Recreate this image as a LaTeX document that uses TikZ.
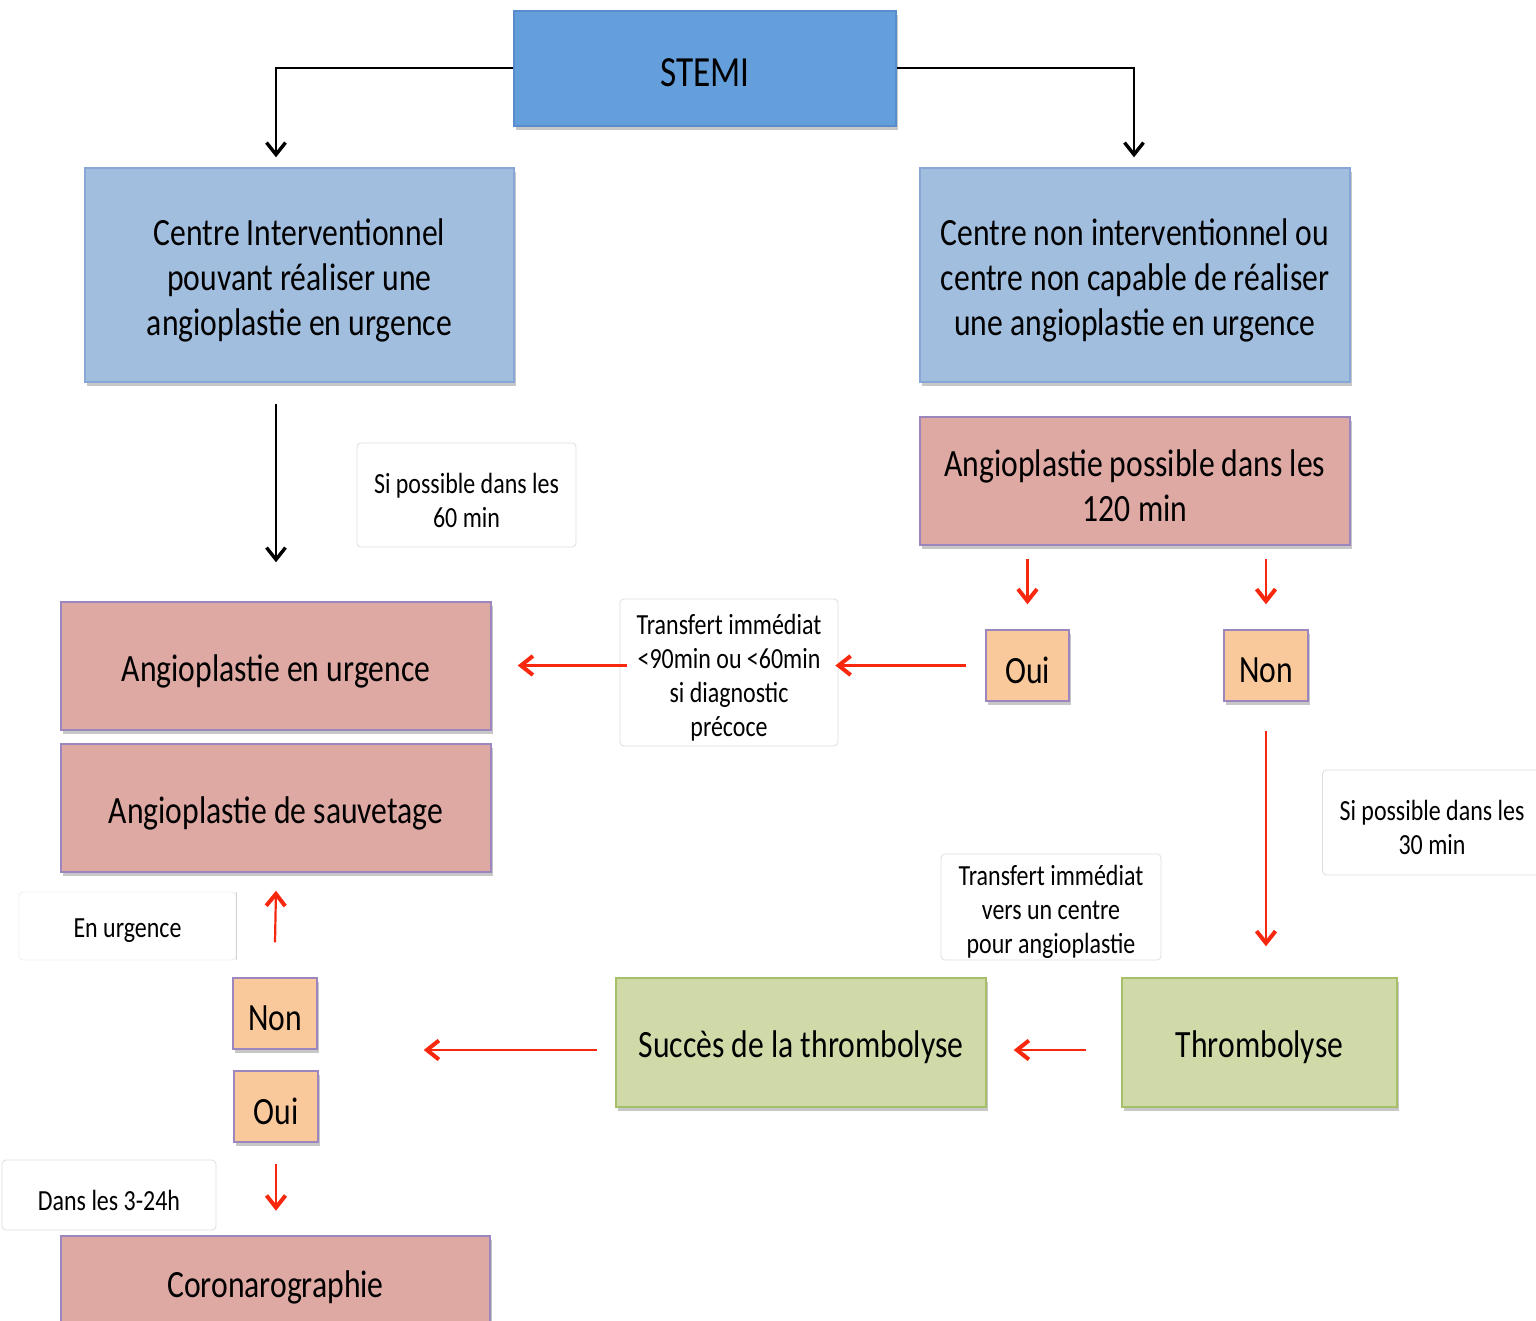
\documentclass[tikz,border=0pt]{standalone}
\usepackage{fontspec}
\setmainfont{Carlito}[FakeStretch=0.82]
\usetikzlibrary{arrows.meta,shadows,calc}
\definecolor{stemiblue}{RGB}{101,159,219}
\definecolor{stemiedge}{RGB}{88,140,205}
\definecolor{lightblue}{RGB}{162,190,223}
\definecolor{lightblueedge}{RGB}{135,168,214}
\definecolor{pinkfill}{RGB}{222,168,163}
\definecolor{purpleedge}{RGB}{155,135,190}
\definecolor{orangefill}{RGB}{250,201,155}
\definecolor{greenfill}{RGB}{207,218,168}
\definecolor{greenedge}{RGB}{165,192,105}
\definecolor{labgray}{RGB}{222,222,222}
\definecolor{arrowred}{RGB}{248,40,15}
\tikzset{
  base/.style={draw, line width=0.7pt, inner sep=0pt,
    drop shadow={shadow xshift=1.2pt, shadow yshift=-1.8pt, fill=black, opacity=0.22}},
  bt/.style={label={[align=center, inner sep=0pt, font=\fontsize{19.3}{22.5}\selectfont, yshift=-2.5pt]center:#1}},
  stt/.style={label={[align=center, inner sep=0pt, font=\fontsize{21.5}{25}\selectfont, yshift=-2pt]center:#1}},
  st/.style={label={[align=center, inner sep=0pt, font=\fontsize{14.6}{17}\selectfont, yshift=-2.5pt]center:#1}},
  stemibox/.style={base, fill=stemiblue, draw=stemiedge},
  bluebox/.style={base, fill=lightblue, draw=lightblueedge},
  pinkbox/.style={base, fill=pinkfill, draw=purpleedge},
  orangebox/.style={base, fill=orangefill, draw=purpleedge, minimum height=35.5pt},
  greenbox/.style={base, fill=greenfill, draw=greenedge, minimum height=64.5pt},
  lab/.style={draw=labgray, line width=0.4pt, rounded corners=2pt, fill=white, inner sep=0pt},
  blk/.style={line width=1pt, draw=black, -{Straight Barb[length=6pt,width=9.5pt,line width=1.7pt]}},
  redarrow/.style={line width=1.1pt, draw=arrowred, -{Straight Barb[length=6pt,width=9.5pt,line width=2pt]}},
}
\begin{document}
\begin{tikzpicture}[x=0.5pt,y=-0.5pt]
\useasboundingbox (0,0) rectangle (1536,1321);
% boxes
\node[stemibox, minimum width=191pt, minimum height=57.5pt, stt={STEMI}] (stemi) at (705,68.5) {};
\node[bluebox, minimum width=214.5pt, minimum height=107pt,
  bt={Centre Interventionnel\\pouvant réaliser une\\angioplastie en urgence}] (leftblue) at (299.5,275) {};
\node[bluebox, minimum width=215pt, minimum height=107pt,
  bt={Centre non interventionnel ou\\centre non capable de réaliser\\une angioplastie en urgence}] (rightblue) at (1135,275) {};
\node[pinkbox, minimum width=215pt, minimum height=64pt,
  bt={Angioplastie possible dans les\\120 min}] (angpos) at (1135,481) {};
\node[pinkbox, minimum width=215pt, minimum height=64pt,
  bt={Angioplastie en urgence}] (angurg) at (276,666) {};
\node[pinkbox, minimum width=215pt, minimum height=64pt,
  bt={Angioplastie de sauvetage}] (angsauv) at (276,808) {};
\node[orangebox, minimum width=41.5pt, bt={Oui}] (ouiR) at (1027.5,665.5) {};
\node[orangebox, minimum width=42pt, bt={Non}] (nonR) at (1266,665.5) {};
\node[orangebox, minimum width=42pt, bt={Non}] (nonL) at (275,1013.5) {};
\node[orangebox, minimum width=42pt, bt={Oui}] (ouiL) at (276,1106.5) {};
\node[greenbox, minimum width=185pt, bt={Succès de la thrombolyse}] (succes) at (801,1042.5) {};
\node[greenbox, minimum width=137.5pt, bt={Thrombolyse}] (thrombo) at (1259.5,1042.5) {};
\node[pinkbox, minimum width=214.5pt, minimum height=46pt, bt={Coronarographie}] (corono) at (275.5,1282) {};
% labels
\node[lab, minimum width=109.5pt, minimum height=52pt,
  st={Si possible dans les\\60 min}] (lab60) at (466.5,495) {};
\node[lab, minimum width=109pt, minimum height=73.5pt,
  st={Transfert immédiat\\<90min ou <60min\\si diagnostic\\précoce}] (trans1) at (729,672.5) {};
\node[lab, minimum width=109.5pt, minimum height=52.5pt,
  st={Si possible dans les\\30 min}] (lab30) at (1432,822.5) {};
\node[lab, minimum width=110pt, minimum height=53pt,
  st={Transfert immédiat\\vers un centre\\pour angioplastie}] (trans2) at (1051,907) {};
\node[lab, draw=labgray!50, minimum width=108.5pt, minimum height=34pt, st={En urgence}] (labUrg) at (127.5,926) {};
\draw[labgray!130, line width=0.4pt] (labUrg.north east) -- (labUrg.south east);
\node[lab, minimum width=107pt, minimum height=35pt, st={Dans les 3-24h}] (lab324) at (109,1195) {};
% black connectors
\coordinate (lefttop) at ($(leftblue.north)+(-23.5,-10)$);
\coordinate (righttop) at ($(rightblue.north)+(-1,-10)$);
\draw[blk] (stemi.west) -| (lefttop);
\draw[blk] (stemi.east) -| (righttop);
\draw[blk] ($(leftblue.south)+(-23.5,21)$) -- ($(angurg.north)+(0,-39)$);
% red connectors
\draw[redarrow] ($(ouiR.north)+(0,-70)$) -- ($(ouiR.north)+(0,-25)$);
\draw[redarrow] ($(nonR.north)+(0,-70)$) -- ($(nonR.north)+(0,-25)$);
\draw[redarrow] ($(ouiR.west)+(-19,0)$) -- ($(trans1.east |- ouiR.west)+(-3,0)$);
\draw[redarrow] ($(trans1.west |- ouiR.west)+(7,0)$) -- ($(angurg.east |- ouiR.west)+(26,0)$);
\draw[redarrow] ($(nonR.south)+(0,29)$) -- ($(nonR.south |- thrombo.north)+(0,-31)$);
\draw[redarrow] ($(thrombo.west)+(-35,7.5)$) -- ($(succes.east)+(27,7.5)$);
\coordinate (leftfree) at ($(nonL.east |- succes.west)+(106,7.5)$);
\draw[redarrow] ($(succes.west)+(-18,7.5)$) -- (leftfree);
\draw[redarrow] ($(nonL.north)+(0,-35)$) -- ($(angsauv.south)+(0,18)$);
\draw[redarrow] ($(ouiL.south)+(0,21)$) -- ($(ouiL.south)+(0,68)$);
\end{tikzpicture}
\end{document}
